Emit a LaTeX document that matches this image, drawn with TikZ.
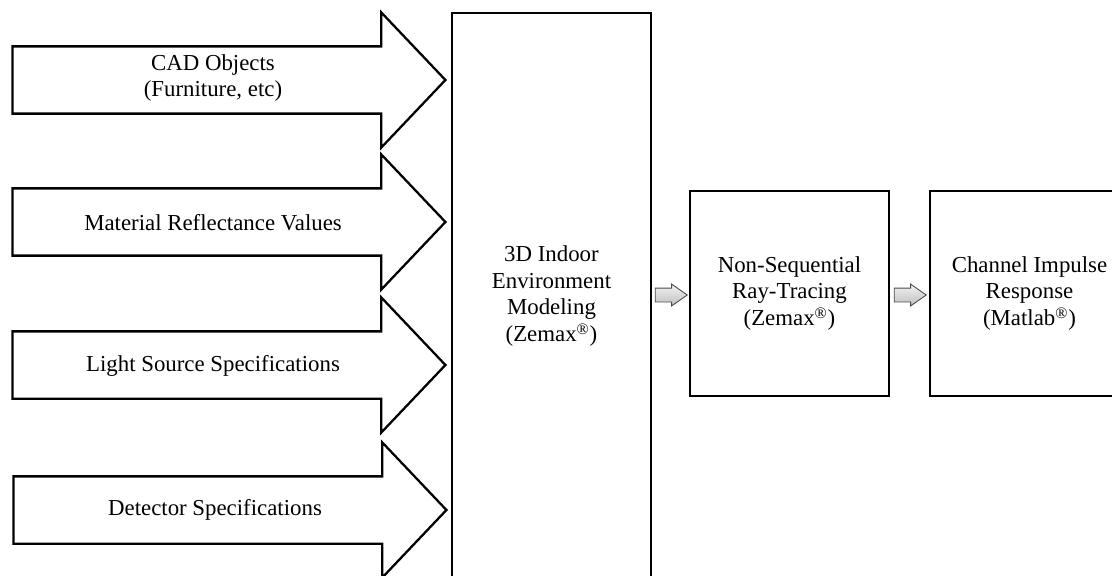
\documentclass[tikz,border=0pt]{standalone}
\usepackage{fontspec}
\setmainfont{Liberation Serif}
\usetikzlibrary{shapes.arrows}
\newcommand{\regmark}{\textsuperscript{\textregistered}}
\begin{document}
\begin{tikzpicture}[x=0.02cm, y=-0.02cm]
        \tikzstyle{every node}=[font=\fontsize{13}{15.3}\selectfont, text=black, align=center]
        \tikzstyle{bigarrow}=[single arrow, draw=black, line width=1.3pt, fill=white, inner xsep=0pt, inner ysep=0.65cm, minimum height=8.66cm, single arrow head extend=0.68cm, single arrow tip angle=93, anchor=tip]
        \tikzstyle{block}=[rectangle, draw=black, line width=1.3pt, minimum width=3.98cm, minimum height=4.1cm]
        \tikzstyle{smallarrow}=[single arrow, draw=gray!60!black, line width=0.5pt, top color=gray!10, bottom color=gray!50, inner xsep=0pt, inner ysep=0.13cm, minimum height=0.64cm, single arrow head extend=0.08cm, single arrow tip angle=70, anchor=tip]

        \clip (0,0) rectangle (1112,575);

        % input arrows
        \node[bigarrow] (cad) at (447,80)  {};
        \node[bigarrow] (mat) at (447,222) {};
        \node[bigarrow] (src) at (447,365) {};
        \node[bigarrow] (det) at (448,510) {};
        \node (cadtxt) at (213,78)  {CAD Objects\\(Furniture, etc)};
        \node (mattxt) at (213,223) {Material Reflectance Values};
        \node (srctxt) at (213,366) {Light Source Specifications};
        \node (dettxt) at (215,510) {Detector Specifications};

        % blocks
        \node[block, minimum height=12cm, anchor=north] (env) at (551.5,12) {};
        \node (envtxt) at (551.5,296) {3D Indoor\\Environment\\Modeling\\(Zemax\regmark)};
        \node[block] (nsrt) at (789.5,293.5) {Non-Sequential\\Ray-Tracing\\(Zemax\regmark)};
        \node[block] (cir) at (1029.5,293.5) {Channel Impulse\\Response\\(Matlab\regmark)};

        \node[smallarrow] (step1) at (688,295) {};
        \node[smallarrow] (step2) at (927,295) {};
    \end{tikzpicture}
\end{document}
